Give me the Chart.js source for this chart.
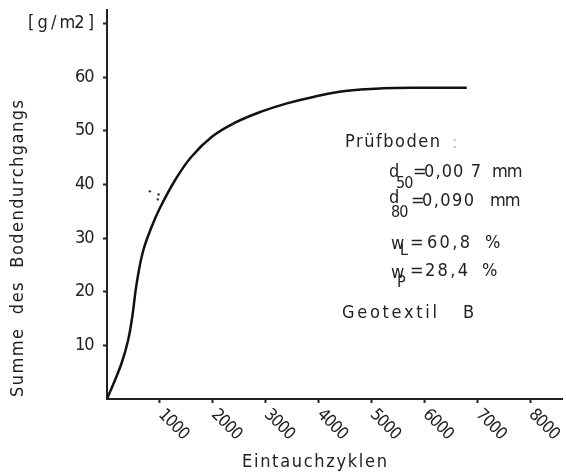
<!DOCTYPE html>
<html>
<head>
<meta charset="utf-8">
<script src="https://cdn.jsdelivr.net/npm/chart.js@4/dist/chart.umd.min.js"></script>
<style>
  html, body { margin: 0; padding: 0; background: #fff; }
  #wrap { width: 566px; height: 472px; }
</style>
</head>
<body>
<div id="wrap"><canvas id="chart" width="566" height="472"></canvas></div>
<script>
// curve (cycles -> g/m2)
const cycles = [0, 150, 280, 400, 480, 560, 680, 840, 1000, 1300, 1600, 2000, 2400, 2900, 3400, 3900, 4500, 5200, 6000, 6800];
const amount = [0, 3.5, 6.8, 11, 15.5, 21.5, 27.5, 32, 35.6, 41, 45.2, 49, 51.4, 53.5, 55.1, 56.3, 57.4, 57.9, 58, 58];

// the few stray measurement dots left of the curve
const dotCycles = [810, 975, 960];
const dotAmount = [38.7, 38.1, 37.2];

const xTicks = [1000, 2000, 3000, 4000, 5000, 6000, 7000, 8000];
const yTicks = [10, 20, 30, 40, 50, 60, 70];
const yTickLabels = ['10', '20', '30', '40', '50', '60', '[ g / m2 ]'];

const ink = '#222';
const font = '"Liberation Sans Narrow", "DejaVu Sans Condensed", "DejaVu Sans", sans-serif';

// draw text starting at x, stretched with letter spacing to a given width
function txt(ctx, s, x, y, size, width, color) {
    ctx.save();
    ctx.font = size + 'px ' + font;
    ctx.fillStyle = color || ink;
    ctx.textAlign = 'left';
    ctx.textBaseline = 'middle';
    let sp = 0;
    if (width && s.length > 1) {
        const w = ctx.measureText(s).width;
        sp = Math.max(-1, (width - w) / (s.length - 1));
    }
    ctx.letterSpacing = sp + 'px';
    ctx.fillText(s, x, y);
    ctx.restore();
}

const labels = {
    id: 'labels',
    afterDraw(chart) {
        const ctx = chart.ctx;
        const xs = chart.scales.x, ys = chart.scales.y;

        // y tick labels
        yTicks.forEach((v, i) => {
            const s = yTickLabels[i];
            const w = i == 6 ? 65 : 18;
            txt(ctx, s, 93 - w, ys.getPixelForValue(v), 18, w);
        });

        // x tick labels, rotated down to the right
        xTicks.forEach(v => {
            ctx.save();
            ctx.translate(xs.getPixelForValue(v) + 1, ys.bottom + 13);
            ctx.rotate(Math.PI / 4);
            txt(ctx, String(v), 0, 0, 17, 34);
            ctx.restore();
        });

        // axis titles
        txt(ctx, 'Eintauchzyklen', 242, 462, 18, 145);
        ctx.save();
        ctx.translate(18, 397);
        ctx.rotate(-Math.PI / 2);
        txt(ctx, 'Summe  des  Bodendurchgangs', 0, 0, 18, 297);
        ctx.restore();

        // annotation
        txt(ctx, 'Prüfboden', 345, 142, 18, 95);
        txt(ctx, ':', 452, 143, 18, 0, '#bbb');
        txt(ctx, 'd', 389, 172, 18);
        txt(ctx, '50', 396, 184, 16, 17);
        txt(ctx, '=', 413, 172, 18);
        txt(ctx, '0,00 7', 424, 172, 18, 57);
        txt(ctx, 'mm', 492, 172, 18, 25);
        txt(ctx, 'd', 389, 198, 18);
        txt(ctx, '80', 391, 213, 16, 17);
        txt(ctx, '=', 411, 201, 18);
        txt(ctx, '0,090', 422, 201, 18, 52);
        txt(ctx, 'mm', 490, 201, 18, 25);
        txt(ctx, 'w', 391, 244, 18);
        txt(ctx, 'L', 400, 251, 16);
        txt(ctx, '=', 410, 243, 18);
        txt(ctx, '60,8', 427, 243, 18, 43);
        txt(ctx, '%', 485, 243, 18);
        txt(ctx, 'w', 391, 273, 18);
        txt(ctx, 'P', 397, 283, 16);
        txt(ctx, '=', 410, 271, 18);
        txt(ctx, '28,4', 425, 271, 18, 43);
        txt(ctx, '%', 482, 271, 18);
        txt(ctx, 'Geotextil', 342, 313, 18, 95);
        txt(ctx, 'B', 463, 313, 18);
    }
};

new Chart(document.getElementById('chart'), {
    type: 'scatter',
    data: {
        datasets: [{
            data: cycles.map((c, i) => ({ x: c, y: amount[i] })),
            showLine: true,
            borderColor: '#111',
            borderWidth: 2.5,
            pointRadius: 0,
            tension: 0.4,
        }, {
            data: dotCycles.map((c, i) => ({ x: c, y: dotAmount[i] })),
            showLine: false,
            pointRadius: 1.2,
            backgroundColor: '#333',
            borderWidth: 0,
        }]
    },
    options: {
        responsive: false,
        animation: false,
        layout: {
            padding: { left: 103, top: 10, right: 2, bottom: 69 },
        },
        plugins: {
            legend: { display: false },
            tooltip: { enabled: false },
        },
        scales: {
            x: {
                min: 0,
                max: 8600,
                afterBuildTicks: s => { s.ticks = xTicks.map(v => ({ value: v })); },
                ticks: { display: false },
                grid: {
                    drawOnChartArea: false,
                    tickLength: 4,
                    tickWidth: 2,
                    tickColor: ink,
                },
                border: { color: ink, width: 2 },
            },
            y: {
                min: 0,
                max: 72.5,
                afterBuildTicks: s => { s.ticks = yTicks.map(v => ({ value: v })); },
                ticks: { display: false },
                grid: {
                    drawOnChartArea: false,
                    tickLength: 4,
                    tickWidth: 2,
                    tickColor: ink,
                },
                border: { color: ink, width: 2 },
            }
        }
    },
    plugins: [labels]
});
</script>
</body>
</html>
